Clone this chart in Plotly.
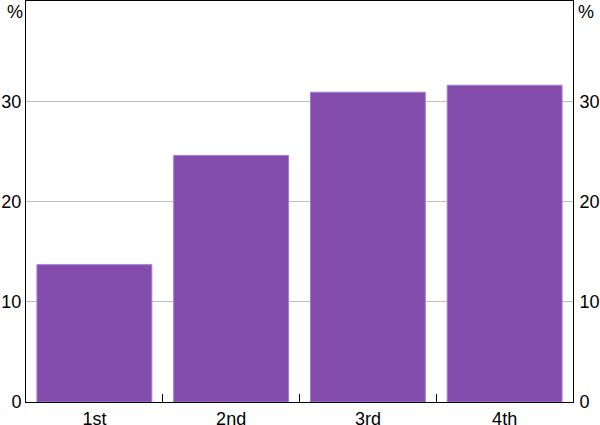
import plotly.graph_objects as go

categories = ["1st", "2nd", "3rd", "4th"]
values = [13.7, 24.6, 30.9, 31.6]
y_ticks = [0, 10, 20, 30]

font = dict(family="Liberation Sans, Arial, sans-serif", size=18, color="black")

fig = go.Figure()
fig.add_trace(go.Bar(
    x=categories, y=values,
    marker=dict(color="#834BAC", line=dict(color="#A77AD0", width=1)),
    width=0.84,
))
# invisible trace to anchor right axis
fig.add_trace(go.Scatter(x=categories, y=values, yaxis="y2", mode="none",
                         showlegend=False, hoverinfo="skip"))

fig.update_layout(
    width=600, height=425,
    margin=dict(l=26, r=27, t=1, b=23, autoexpand=False),
    paper_bgcolor="white", plot_bgcolor="white",
    showlegend=False,
    font=font,
    bargap=0.16,
    xaxis=dict(
        type="category", tickson="boundaries", ticks="inside", ticklen=8,
        tickcolor="black", tickwidth=1, automargin=False,
        showline=True, linecolor="black", linewidth=1, mirror=True,
        showgrid=False, tickfont=font,
    ),
    yaxis=dict(
        range=[0, 40], tickvals=y_ticks, ticks="", showgrid=True,
        gridcolor="#C0C0C0", gridwidth=1, zeroline=False, automargin=False,
        showline=True, linecolor="black", linewidth=1,
        tickfont=font, ticklabelstandoff=0,
    ),
    yaxis2=dict(
        range=[0, 40], tickvals=y_ticks, ticks="", overlaying="y", side="right",
        showgrid=False, zeroline=False, showline=True, linecolor="black",
        linewidth=1, tickfont=font, automargin=False, ticklabelstandoff=2,
    ),
    annotations=[
        dict(text="%", xref="paper", yref="paper", x=0, y=1, xanchor="right",
             yanchor="top", xshift=-1, yshift=1, showarrow=False, font=font),
        dict(text="%", xref="paper", yref="paper", x=1, y=1, xanchor="left",
             yanchor="top", xshift=3, yshift=1, showarrow=False, font=font),
    ],
)

fig.write_html("out.html", config={"displayModeBar": False},
               post_script="document.body.style.margin='0';document.body.style.overflow='hidden';")
